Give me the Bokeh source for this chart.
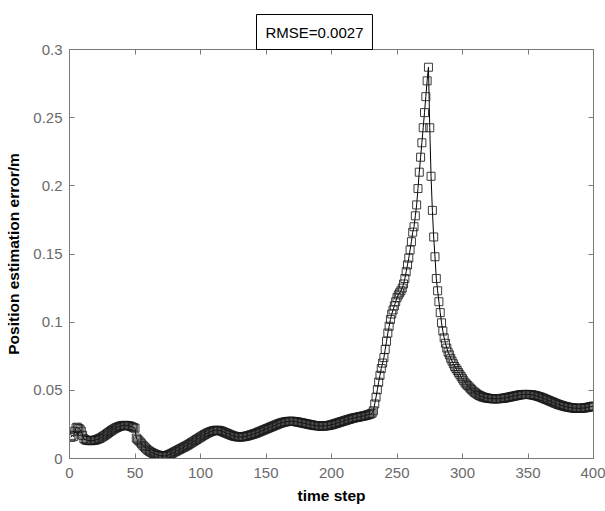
from bokeh.plotting import figure
from bokeh.models import Range1d, LinearAxis, FixedTicker, Title, CustomJSTickFormatter
from bokeh.embed import file_html
from bokeh.resources import INLINE

# ---------------- data ----------------
title_text = "RMSE=0.0027"
x_label = "time step"
y_label = "Position estimation error/m"

x_ticks = [0, 50, 100, 150, 200, 250, 300, 350, 400]
x_tick_labels = ["0", "50", "100", "150", "200", "250", "300", "350", "400"]
y_ticks = [0, 0.05, 0.1, 0.15, 0.2, 0.25, 0.3]
y_tick_labels = ["0", "0.05", "0.1", "0.15", "0.2", "0.25", "0.3"]

time_step = list(range(1, 401))

err_001_050 = [
    0.0155, 0.0170, 0.0160, 0.0200, 0.0225, 0.0230, 0.0220, 0.0215, 0.0200, 0.0170,
    0.0145, 0.0138, 0.0134, 0.0132, 0.0131, 0.0131, 0.0131, 0.0132, 0.0134, 0.0136,
    0.0139, 0.0143, 0.0147, 0.0152, 0.0158, 0.0164, 0.0170, 0.0177, 0.0184, 0.0191,
    0.0198, 0.0205, 0.0211, 0.0217, 0.0222, 0.0227, 0.0231, 0.0235, 0.0238, 0.0240,
    0.0242, 0.0243, 0.0243, 0.0242, 0.0240, 0.0238, 0.0235, 0.0231, 0.0226, 0.0222,
]
err_051_100 = [
    0.0150, 0.0140, 0.0130, 0.0120, 0.0108, 0.0097, 0.0087, 0.0077, 0.0068, 0.0060,
    0.0053, 0.0047, 0.0042, 0.0037, 0.0033, 0.0029, 0.0026, 0.0023, 0.0021, 0.0019,
    0.0018, 0.0018, 0.0019, 0.0021, 0.0024, 0.0028, 0.0032, 0.0037, 0.0042, 0.0047,
    0.0052, 0.0057, 0.0062, 0.0067, 0.0072, 0.0077, 0.0082, 0.0087, 0.0092, 0.0097,
    0.0103, 0.0109, 0.0115, 0.0121, 0.0127, 0.0133, 0.0139, 0.0145, 0.0151, 0.0157,
]
err_101_150 = [
    0.0163, 0.0169, 0.0175, 0.0180, 0.0185, 0.0190, 0.0194, 0.0198, 0.0201, 0.0204,
    0.0206, 0.0207, 0.0207, 0.0206, 0.0204, 0.0201, 0.0197, 0.0193, 0.0189, 0.0185,
    0.0181, 0.0177, 0.0173, 0.0169, 0.0166, 0.0163, 0.0161, 0.0159, 0.0158, 0.0158,
    0.0158, 0.0159, 0.0160, 0.0162, 0.0164, 0.0166, 0.0169, 0.0172, 0.0175, 0.0178,
    0.0181, 0.0184, 0.0188, 0.0192, 0.0196, 0.0200, 0.0204, 0.0208, 0.0212, 0.0216,
]
err_151_200 = [
    0.0220, 0.0224, 0.0228, 0.0232, 0.0236, 0.0240, 0.0244, 0.0248, 0.0252, 0.0256,
    0.0259, 0.0262, 0.0265, 0.0267, 0.0269, 0.0271, 0.0272, 0.0273, 0.0273, 0.0273,
    0.0272, 0.0271, 0.0270, 0.0268, 0.0266, 0.0264, 0.0262, 0.0260, 0.0258, 0.0256,
    0.0254, 0.0252, 0.0250, 0.0248, 0.0246, 0.0244, 0.0242, 0.0241, 0.0240, 0.0239,
    0.0238, 0.0238, 0.0238, 0.0238, 0.0239, 0.0240, 0.0241, 0.0243, 0.0245, 0.0247,
]
err_201_250 = [
    0.0250, 0.0253, 0.0256, 0.0259, 0.0262, 0.0265, 0.0268, 0.0271, 0.0274, 0.0277,
    0.0280, 0.0283, 0.0286, 0.0289, 0.0292, 0.0295, 0.0297, 0.0299, 0.0301, 0.0303,
    0.0305, 0.0307, 0.0309, 0.0311, 0.0313, 0.0315, 0.0318, 0.0321, 0.0324, 0.0328,
    0.0333, 0.0350, 0.0400, 0.0450, 0.0505, 0.0560, 0.0610, 0.0660, 0.0700, 0.0740,
    0.0800, 0.0860, 0.0920, 0.0970, 0.1020, 0.1060, 0.1090, 0.1120, 0.1150, 0.1180,
]
err_251_300 = [
    0.1200, 0.1215, 0.1230, 0.1250, 0.1280, 0.1320, 0.1370, 0.1420, 0.1470, 0.1530,
    0.1590, 0.1660, 0.1700, 0.1780, 0.1860, 0.1980, 0.2100, 0.2210, 0.2316, 0.2426,
    0.2537, 0.2654, 0.2770, 0.2870, 0.2426, 0.2070, 0.1820, 0.1625, 0.1480, 0.1320,
    0.1230, 0.1150, 0.1070, 0.0995, 0.0935, 0.0885, 0.0845, 0.0810, 0.0780, 0.0760,
    0.0735, 0.0715, 0.0695, 0.0675, 0.0660, 0.0645, 0.0630, 0.0615, 0.0600, 0.0585,
]
err_301_350 = [
    0.0570, 0.0555, 0.0545, 0.0535, 0.0525, 0.0515, 0.0505, 0.0495, 0.0487, 0.0480,
    0.0473, 0.0467, 0.0462, 0.0457, 0.0453, 0.0450, 0.0447, 0.0445, 0.0443, 0.0441,
    0.0440, 0.0439, 0.0438, 0.0438, 0.0438, 0.0438, 0.0438, 0.0439, 0.0440, 0.0441,
    0.0442, 0.0443, 0.0445, 0.0447, 0.0449, 0.0451, 0.0453, 0.0455, 0.0457, 0.0459,
    0.0461, 0.0463, 0.0465, 0.0467, 0.0468, 0.0469, 0.0470, 0.0470, 0.0470, 0.0470,
]
err_351_400 = [
    0.0469, 0.0468, 0.0467, 0.0465, 0.0463, 0.0461, 0.0458, 0.0455, 0.0452, 0.0449,
    0.0445, 0.0441, 0.0437, 0.0433, 0.0429, 0.0425, 0.0421, 0.0417, 0.0413, 0.0409,
    0.0405, 0.0401, 0.0397, 0.0394, 0.0391, 0.0388, 0.0385, 0.0382, 0.0380, 0.0378,
    0.0376, 0.0374, 0.0372, 0.0371, 0.0370, 0.0369, 0.0368, 0.0368, 0.0368, 0.0368,
    0.0369, 0.0370, 0.0371, 0.0372, 0.0374, 0.0376, 0.0378, 0.0380, 0.0382, 0.0385,
]

error = (err_001_050 + err_051_100 + err_101_150 + err_151_200 +
         err_201_250 + err_251_300 + err_301_350 + err_351_400)

# ---------------- style ----------------
FONT = "Liberation Sans"
AXIS_GRAY = "#7a7a7a"
LABEL_GRAY = "#6a6a6a"

p = figure(
    width=605, height=511,
    frame_width=524, frame_height=409,
    min_border_left=69, min_border_right=12, min_border_top=49, min_border_bottom=53,
    x_range=Range1d(0, 400), y_range=Range1d(0, 0.3),
    output_backend="svg", toolbar_location=None, tools="",
)
p.background_fill_color = "white"
p.border_fill_color = "white"
p.outline_line_color = AXIS_GRAY
p.xgrid.visible = False
p.ygrid.visible = False

p.line(time_step, error, line_color="black", line_width=1)
p.scatter(time_step, error, marker="square", size=8, fill_color=None,
          line_color="#1a1a1a", line_width=1, line_alpha=0.85)

xt = FixedTicker(ticks=x_ticks)
yt = FixedTicker(ticks=y_ticks)

for ax in p.xaxis:
    ax.ticker = xt
    ax.major_label_overrides = dict(zip(x_ticks, x_tick_labels))
    ax.axis_label = x_label
    ax.major_label_standoff = 9
    ax.axis_label_standoff = 6
for ax in p.yaxis:
    ax.ticker = yt
    ax.major_label_overrides = dict(zip(y_ticks, y_tick_labels))
    ax.axis_label = y_label
    ax.major_label_standoff = 7
    ax.axis_label_standoff = 8

for ax in p.xaxis + p.yaxis:
    ax.axis_line_color = AXIS_GRAY
    ax.major_tick_line_color = AXIS_GRAY
    ax.major_tick_in = 5
    ax.major_tick_out = 0
    ax.minor_tick_line_color = None
    ax.major_label_text_font = FONT
    ax.major_label_text_font_size = "15px"
    ax.major_label_text_color = LABEL_GRAY
    ax.axis_label_text_font = FONT
    ax.axis_label_text_font_size = "15.5px"
    ax.axis_label_text_font_style = "bold"
    ax.axis_label_text_color = "black"

blank = CustomJSTickFormatter(code="return ''")
top_axis = LinearAxis(ticker=xt, formatter=blank, major_tick_in=5, major_tick_out=0,
                      minor_tick_line_color=None, axis_line_color=AXIS_GRAY,
                      major_tick_line_color=AXIS_GRAY, major_label_text_font_size="0px",
                      major_label_standoff=0)
right_axis = LinearAxis(ticker=yt, formatter=blank, major_tick_in=5, major_tick_out=0,
                        minor_tick_line_color=None, axis_line_color=AXIS_GRAY,
                        major_tick_line_color=AXIS_GRAY, major_label_text_font_size="0px",
                        major_label_standoff=0)
p.add_layout(top_axis, "above")
p.add_layout(right_axis, "right")

p.title = Title(text=title_text, align="left", offset=187, standoff=0,
                text_font=FONT, text_font_size="15px", text_font_style="normal",
                text_color="black", border_line_color="black", border_line_width=1,
                background_fill_color="white", padding=9)

open("out.html", "w").write(file_html(p, INLINE))
